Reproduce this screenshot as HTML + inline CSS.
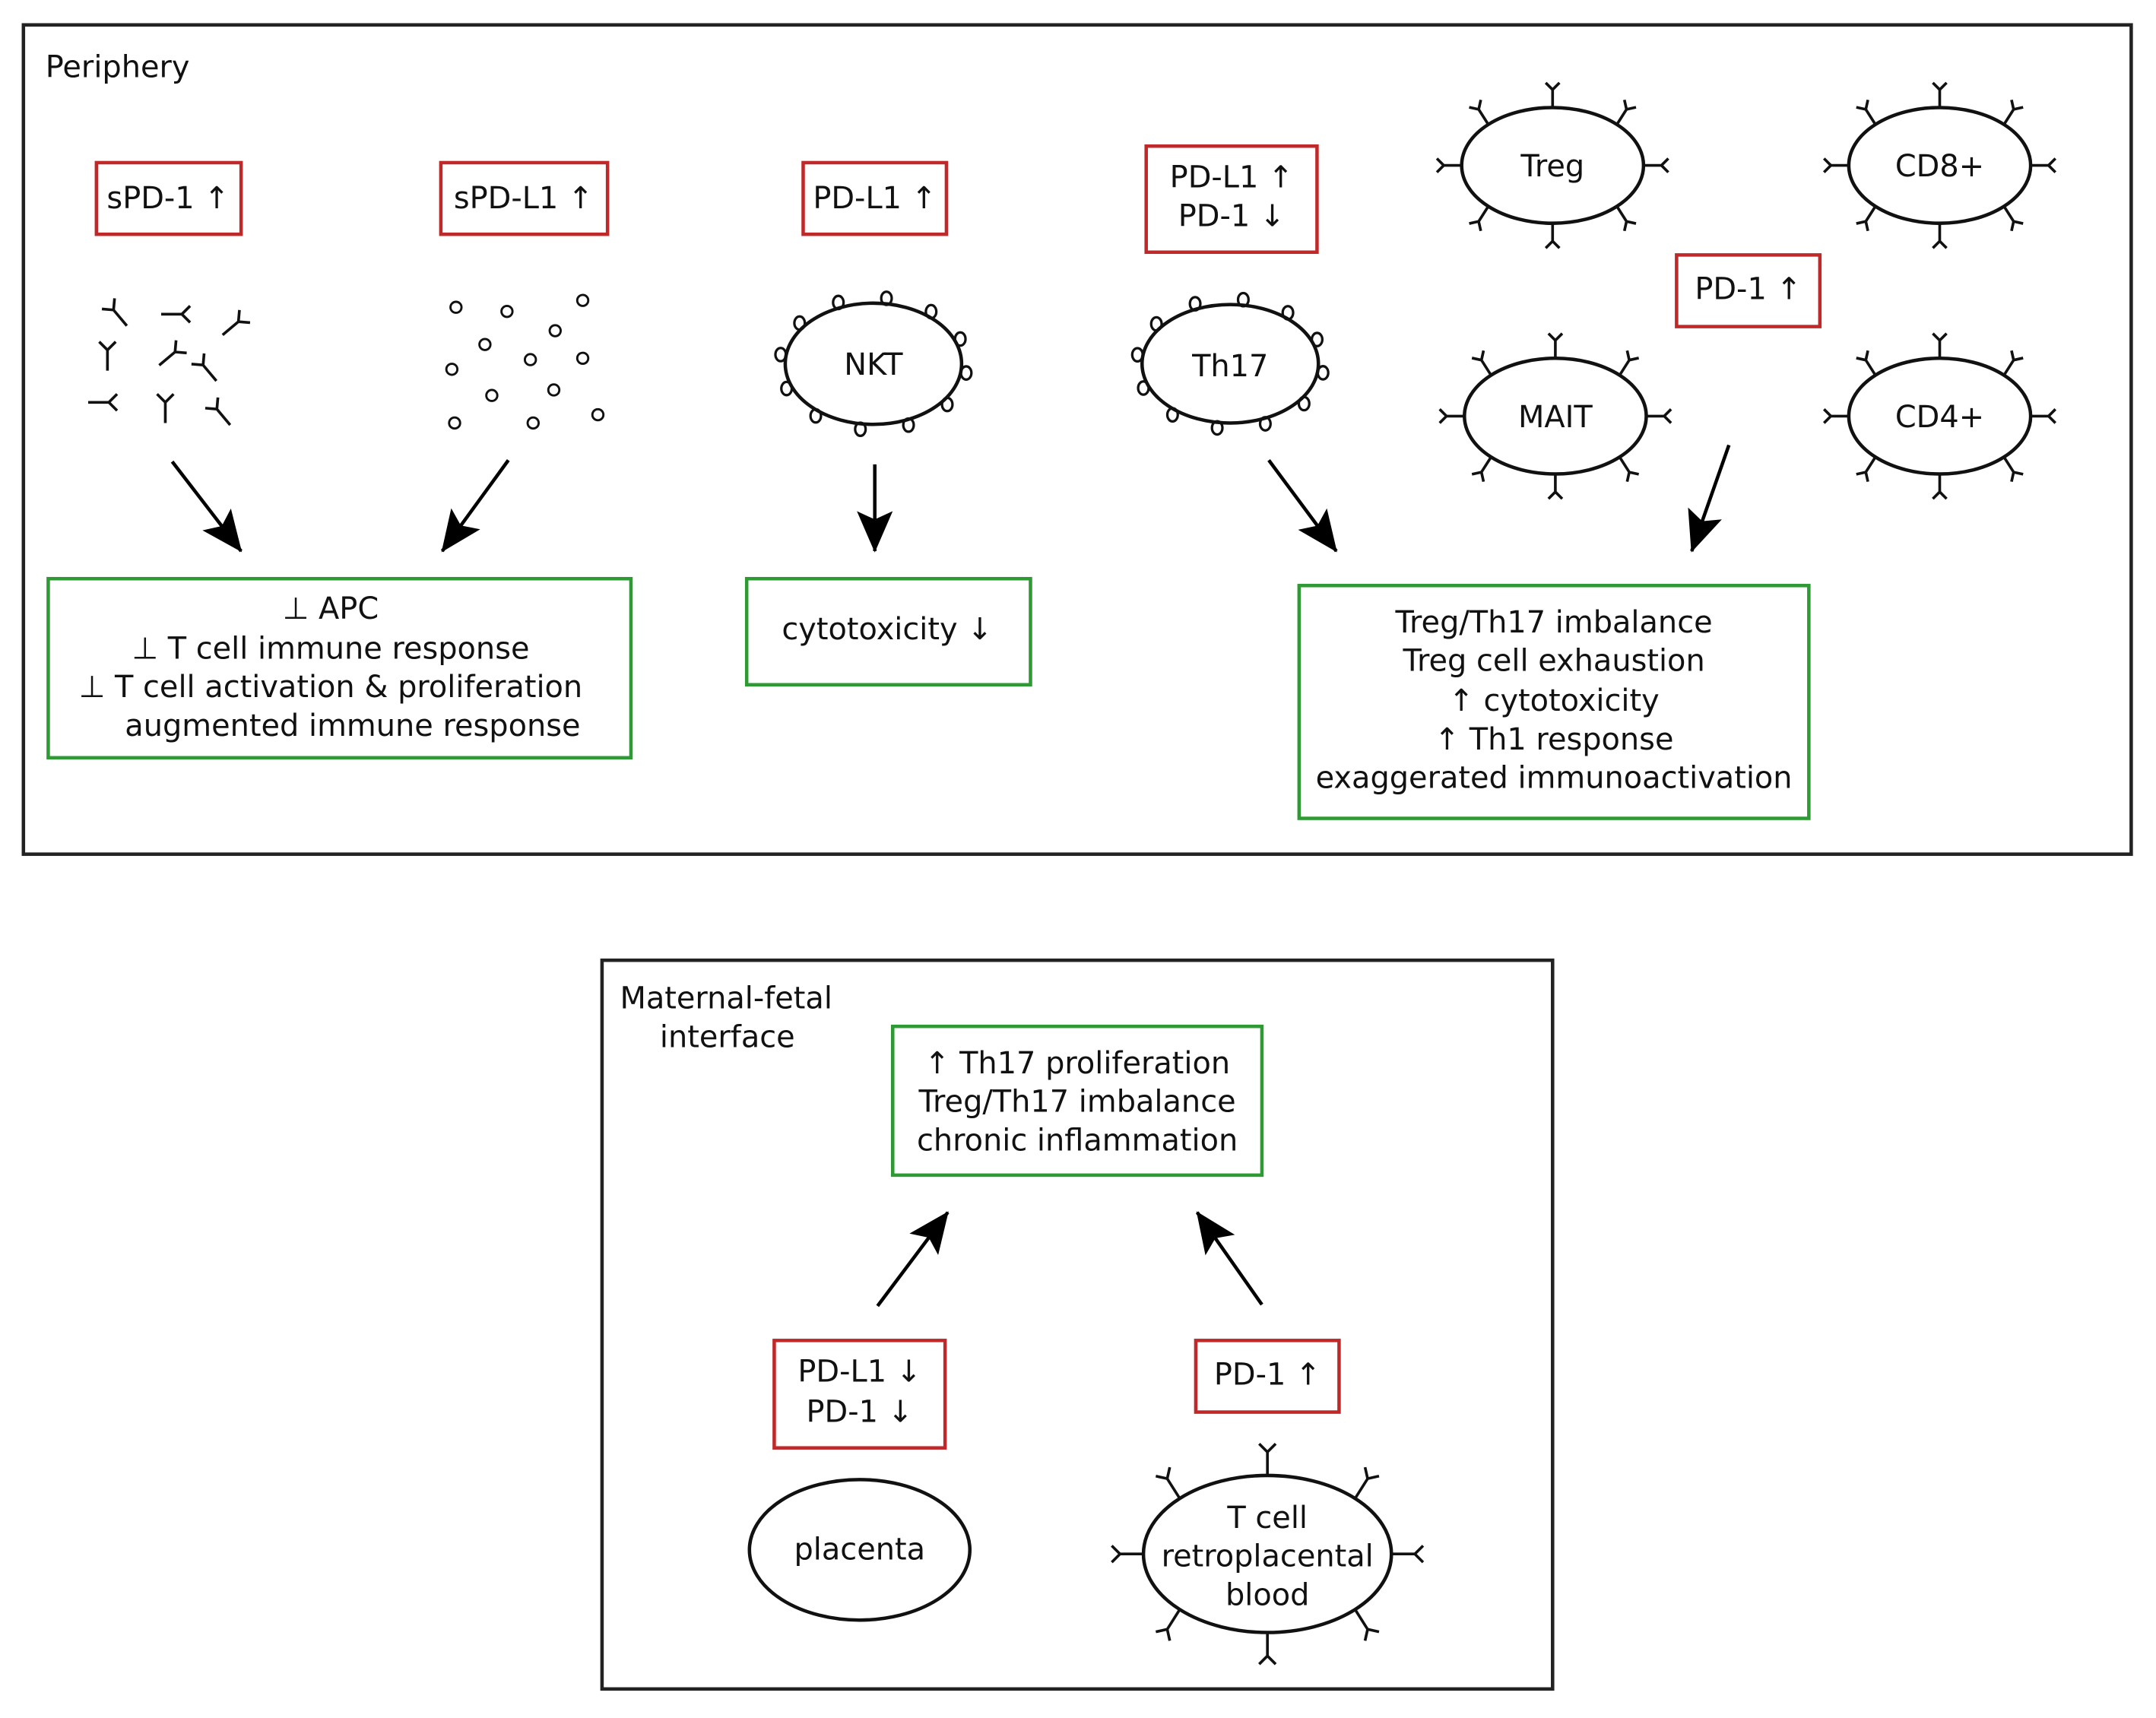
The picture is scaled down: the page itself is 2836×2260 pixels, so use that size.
<!DOCTYPE html>
<html><head><meta charset="utf-8"><style>
html,body{margin:0;padding:0;background:#fff}
svg{display:block}
text{font-family:"DejaVu Sans","Liberation Sans",sans-serif;font-size:22px;fill:#111}
</style></head><body>
<svg id="s" width="2836" height="2260" viewBox="0 0 1565 1247" xmlns="http://www.w3.org/2000/svg">
<defs>
<marker id="ah" viewBox="0 0 30 26" refX="29" refY="13" markerWidth="30" markerHeight="26" orient="auto" markerUnits="userSpaceOnUse"><path d="M0,0 L30,13 L0,26 L6,13 z" fill="#000"/></marker>
</defs>
<g fill="none" stroke="#222" stroke-width="2.5">
<rect x="17" y="18" width="1530" height="602"/>
<rect x="437" y="697" width="690" height="529"/>
</g>
<g fill="none" stroke="#c0292a" stroke-width="2.5">
<rect x="70" y="118" width="105" height="52"/>
<rect x="320" y="118" width="121" height="52"/>
<rect x="583" y="118" width="104" height="52"/>
<rect x="832" y="106" width="124" height="77"/>
<rect x="1217" y="185" width="104" height="52"/>
<rect x="562" y="973" width="124" height="78"/>
<rect x="868" y="973" width="104" height="52"/>
</g>
<g fill="none" stroke="#2e9a34" stroke-width="2.5">
<rect x="35" y="420" width="423" height="130"/>
<rect x="542" y="420" width="206" height="77"/>
<rect x="943" y="425" width="370" height="169"/>
<rect x="648" y="745" width="268" height="108"/>
</g>
<g stroke="#000" stroke-width="2.5" marker-end="url(#ah)">
<line x1="125" y1="335" x2="175" y2="400"/>
<line x1="369" y1="334" x2="321" y2="400"/>
<line x1="635" y1="337" x2="635" y2="400"/>
<line x1="921" y1="334" x2="970" y2="400"/>
<line x1="1255" y1="323" x2="1228" y2="400"/>
<line x1="637" y1="948" x2="688" y2="880"/>
<line x1="916" y1="947" x2="869" y2="880"/>
</g>
<g id="cells" fill="none" stroke="#111" stroke-width="2.5"></g>
<g fill="none" stroke="#111" stroke-width="1.6">
<circle cx="331" cy="223" r="4"/><circle cx="368" cy="226" r="4"/><circle cx="423" cy="218" r="4"/>
<circle cx="352" cy="250" r="4"/><circle cx="403" cy="240" r="4"/><circle cx="328" cy="268" r="4"/>
<circle cx="385" cy="261" r="4"/><circle cx="423" cy="260" r="4"/><circle cx="357" cy="287" r="4"/>
<circle cx="402" cy="283" r="4"/><circle cx="330" cy="307" r="4"/><circle cx="387" cy="307" r="4"/>
<circle cx="434" cy="301" r="4"/>
</g>
<g id="free" fill="none" stroke="#111" stroke-width="2"></g>
<text x="33" y="56">Periphery</text>
<g text-anchor="middle">
<text x="122" y="151">sPD-1 ↑</text>
<text x="380" y="151">sPD-L1 ↑</text>
<text x="635" y="151">PD-L1 ↑</text>
<text x="894" y="136">PD-L1 ↑</text>
<text x="894" y="164">PD-1 ↓</text>
<text x="1269" y="217">PD-1 ↑</text>
<text x="634" y="272">NKT</text>
<text x="893" y="273">Th17</text>
<text x="1127" y="128">Treg</text>
<text x="1408" y="128">CD8+</text>
<text x="1129" y="310">MAIT</text>
<text x="1408" y="310">CD4+</text>
<text x="240" y="449">⊥ APC</text>
<text x="240" y="478">⊥  T cell immune response</text>
<text x="240" y="506">⊥  T cell activation &amp; proliferation</text>
<text x="256" y="534">augmented immune response</text>
<text x="644" y="464">cytotoxicity ↓</text>
<text x="1128" y="459">Treg/Th17 imbalance</text>
<text x="1128" y="487">Treg cell exhaustion</text>
<text x="1128" y="516">↑ cytotoxicity</text>
<text x="1128" y="544">↑ Th1 response</text>
<text x="1128" y="572">exaggerated immunoactivation</text>
<text x="528" y="760">interface</text>
<text x="782" y="779">↑ Th17 proliferation</text>
<text x="782" y="807">Treg/Th17 imbalance</text>
<text x="782" y="835">chronic inflammation</text>
<text x="624" y="1003">PD-L1 ↓</text>
<text x="624" y="1032">PD-1 ↓</text>
<text x="920" y="1005">PD-1 ↑</text>
<text x="624" y="1132">placenta</text>
<text x="920" y="1109">T cell</text>
<text x="920" y="1137">retroplacental</text>
<text x="920" y="1165">blood</text>
</g>
<text x="450" y="732">Maternal-fetal</text>
</svg>
<script>
var NS="http://www.w3.org/2000/svg";
var cells=document.getElementById("cells"),free=document.getElementById("free");
function el(p,t,a){var e=document.createElementNS(NS,t);for(var k in a)e.setAttribute(k,a[k]);p.appendChild(e);return e;}
function ab(p,x,y,ang,len,arm,sw){
  var g=el(p,"g",{transform:"translate("+x+","+y+") rotate("+(ang+90)+")","stroke-width":sw||2});
  el(g,"path",{d:"M0,0 L0,-"+len+" M0,-"+len+" L-"+arm+",-"+(len+arm)+" M0,-"+len+" L"+arm+",-"+(len+arm)});
}
function abCell(cx,cy,rx,ry,len,arm,offset){
  el(cells,"ellipse",{cx:cx,cy:cy,rx:rx,ry:ry});
  for(var i=0;i<8;i++){var a=(i*45+(offset||0))*Math.PI/180;
    var x=cx+rx*Math.cos(a),y=cy+ry*Math.sin(a);
    var nx=Math.cos(a)/rx,ny=Math.sin(a)/ry;var d=Math.atan2(ny,nx)*180/Math.PI;
    ab(cells,x,y,d,len,arm,2);}
}
function dotCell(cx,cy,rx,ry){
  el(cells,"ellipse",{cx:cx,cy:cy,rx:rx,ry:ry});
  var angs=[0,30,60,90,120,150,180,210,240,270,300,330];
  for(var i=0;i<12;i++){var a=(angs[i]+8)*Math.PI/180;
    var x=cx+(rx+4)*Math.cos(a),y=cy+(ry+4)*Math.sin(a);
    el(cells,"ellipse",{cx:x,cy:y,rx:3.8,ry:4.8,"stroke-width":1.8});}
}
dotCell(634,264,64,44);
dotCell(893,264,64,43);
abCell(1127,120,66,42,13,5,0);
abCell(1408,120,66,42,13,5,0);
abCell(1129,302,66,42,13,5,0);
abCell(1408,302,66,42,13,5,0);
el(cells,"ellipse",{cx:624,cy:1125,rx:80,ry:51});
abCell(920,1128,90,57,17,6,0);
var fr=[[85,228,-130],[128,228,0],[170,236,-40],[78,258,-90],[124,258,-40],[150,268,-130],[75,292,0],[120,296,-90],[160,300,-130]];
fr.forEach(function(f){var a=f[2]*Math.PI/180;var L=22;
  var bx=f[0]-Math.cos(a)*L/2,by=f[1]-Math.sin(a)*L/2;
  var g=el(free,"g",{transform:"translate("+bx+","+by+") rotate("+(f[2]+90)+")"});
  el(g,"path",{d:"M0,0 L0,-15 M0,-15 L-6,-21 M0,-15 L6,-21"});
});
</script>
</body></html>
